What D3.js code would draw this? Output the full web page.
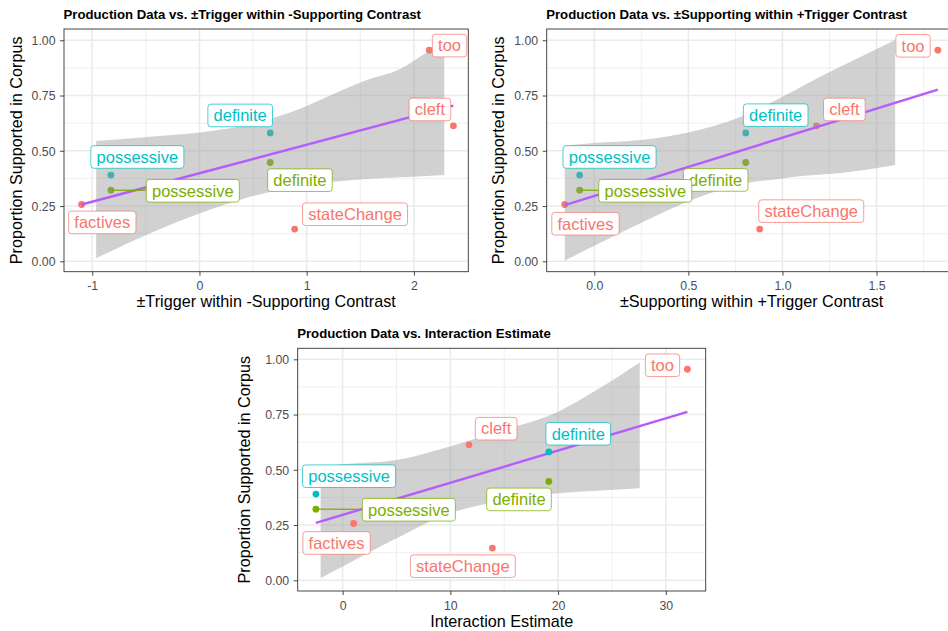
<!DOCTYPE html>
<html>
<head>
<meta charset="utf-8">
<script src="https://cdn.jsdelivr.net/npm/d3@7"></script>
<style>
  html, body { margin: 0; padding: 0; background: #fff; }
  svg { display: block; font-family: "Liberation Sans", Arial, Helvetica, sans-serif; }
</style>
</head>
<body>
<svg id="chart" width="948" height="631"></svg>
<script>
// ---------------- DATA ----------------
const triggers   = ["too", "cleft", "definite", "definite", "possessive", "possessive", "factives", "stateChange"];
const groups     = ["g1", "g1", "g3", "g2", "g3", "g2", "g1", "g1"];
const proportion = [0.955, 0.613, 0.581, 0.447, 0.390, 0.322, 0.257, 0.146];
const xTrigger     = [2.143, 2.368, 0.66, 0.66, -0.826, -0.826, -1.099, 0.888];
const xSupporting  = [1.826, 1.181, 0.805, 0.805, -0.078, -0.078, -0.157, 0.879];
const xInteraction = [32.0, 11.73, 19.14, 19.14, -2.48, -2.48, 1.02, 13.9];

// fitted line end points
const line1X = [-1.099, 2.368], line1Y = [0.257, 0.704];
const line2X = [-0.157, 1.826], line2Y = [0.254, 0.777];
const line3X = [-2.48, 32.0],   line3Y = [0.26, 0.762];

// confidence ribbons
const rib1X  = [-0.963, -0.459, 0.006, 0.472, 0.938, 1.25, 1.561, 1.872, 2.121, 2.283];
const rib1Hi = [0.544, 0.564, 0.583, 0.62, 0.69, 0.757, 0.82, 0.87, 0.945, 0.985];
const rib1Lo = [0.014, 0.127, 0.217, 0.292, 0.341, 0.36, 0.372, 0.38, 0.386, 0.39];
const rib2X  = [-0.157, 0.0, 0.247, 0.494, 0.778, 1.0, 1.132, 1.31, 1.599];
const rib2Hi = [0.523, 0.535, 0.549, 0.582, 0.654, 0.745, 0.805, 0.881, 1.001];
const rib2Lo = [0.003, 0.07, 0.173, 0.27, 0.348, 0.375, 0.388, 0.40, 0.436];
const rib3X  = [-2.04, 0, 5.01, 9.95, 14.29, 20.0, 23.56, 27.58];
const rib3Hi = [0.517, 0.525, 0.544, 0.605, 0.672, 0.763, 0.861, 0.986];
const rib3Lo = [0.009, 0.062, 0.19, 0.303, 0.356, 0.394, 0.405, 0.416];

// label anchor positions (data units, as placed by the repel layout)
const lab1X = [2.332, 2.149, 0.380, 0.937, -0.579, -0.062, -0.906, 1.451];
const lab1Y = [0.976, 0.687, 0.660, 0.367, 0.472, 0.319, 0.176, 0.213];
const lab2X = [1.694, 1.329, 0.964, 0.645, 0.081, 0.271, -0.047, 1.153];
const lab2Y = [0.975, 0.687, 0.661, 0.368, 0.472, 0.319, 0.170, 0.227];
const lab3X = [29.69, 14.25, 21.87, 16.37, 0.60, 6.15, -0.56, 11.16];
const lab3Y = [0.973, 0.686, 0.663, 0.366, 0.471, 0.319, 0.169, 0.064];

// ticks
const yTicks = [0, 0.25, 0.5, 0.75, 1.0];
const yTickLabels = ["0.00", "0.25", "0.50", "0.75", "1.00"];
const yMinor = [0.125, 0.375, 0.625, 0.875];
const x1Ticks = [-1, 0, 1, 2], x1TickLabels = ["-1", "0", "1", "2"], x1Minor = [-0.5, 0.5, 1.5];
const x2Ticks = [0, 0.5, 1.0, 1.5], x2TickLabels = ["0.0", "0.5", "1.0", "1.5"], x2Minor = [0.25, 0.75, 1.25, 1.75];
const x3Ticks = [0, 10, 20, 30], x3TickLabels = ["0", "10", "20", "30"], x3Minor = [5, 15, 25];

const titles  = ["Production Data vs. \u00B1Trigger within -Supporting Contrast",
                 "Production Data vs. \u00B1Supporting within +Trigger Contrast",
                 "Production Data vs. Interaction Estimate"];
const xTitles = ["\u00B1Trigger within -Supporting Contrast",
                 "\u00B1Supporting within +Trigger Contrast",
                 "Interaction Estimate"];
const yTitle  = "Proportion Supported in Corpus";

// ---------------- STYLE / LAYOUT ----------------
const color = d3.scaleOrdinal().domain(["g1", "g2", "g3"]).range(["#F8766D", "#7CAE00", "#00BFC4"]);
const lineColor = "#B45CFC";

const panels = [
  { xs: xTrigger, frame: {l: 64, r: 468.3, t: 29, b: 271.7}, xDomain: [-1.263, 2.507], yDomain: [-0.047, 1.051],
    xTicks: x1Ticks, xTickLabels: x1TickLabels, xMinor: x1Minor,
    rib: [rib1X, rib1Lo, rib1Hi], line: [line1X, line1Y], lab: [lab1X, lab1Y],
    pointsOnTop: false, title: titles[0], xTitle: xTitles[0], yTitleX: 22, titleY: 18.6 },
  { xs: xSupporting, frame: {l: 546.7, r: 956.5, t: 29, b: 271.7}, xDomain: [-0.253, 1.925], yDomain: [-0.047, 1.051],
    xTicks: x2Ticks, xTickLabels: x2TickLabels, xMinor: x2Minor,
    rib: [rib2X, rib2Lo, rib2Hi], line: [line2X, line2Y], lab: [lab2X, lab2Y],
    pointsOnTop: false, title: titles[1], xTitle: xTitles[1], yTitleX: 504, titleY: 18.6 },
  { xs: xInteraction, frame: {l: 297.7, r: 705.7, t: 348.3, b: 591}, xDomain: [-4.17, 33.7], yDomain: [-0.0484, 1.0498],
    xTicks: x3Ticks, xTickLabels: x3TickLabels, xMinor: x3Minor,
    rib: [rib3X, rib3Lo, rib3Hi], line: [line3X, line3Y], lab: [lab3X, lab3Y],
    pointsOnTop: true, title: titles[2], xTitle: xTitles[2], yTitleX: 250, titleY: 337.5 }
];

const svg = d3.select("#chart");
const labelFont = 16.5, pad = 5.7, boxH = 22.6;

panels.forEach(p => {
  const f = p.frame;
  const x = d3.scaleLinear().domain(p.xDomain).range([f.l, f.r]);
  const y = d3.scaleLinear().domain(p.yDomain).range([f.b, f.t]);
  const g = svg.append("g");

  // background grid
  const grid = g.append("g");
  p.xMinor.forEach(v => grid.append("line").attr("x1", x(v)).attr("x2", x(v)).attr("y1", f.t).attr("y2", f.b)
      .attr("stroke", "#EBEBEB").attr("stroke-width", 0.8));
  yMinor.forEach(v => grid.append("line").attr("x1", f.l).attr("x2", f.r).attr("y1", y(v)).attr("y2", y(v))
      .attr("stroke", "#EBEBEB").attr("stroke-width", 0.8));
  p.xTicks.forEach(v => grid.append("line").attr("x1", x(v)).attr("x2", x(v)).attr("y1", f.t).attr("y2", f.b)
      .attr("stroke", "#EBEBEB").attr("stroke-width", 1.6));
  yTicks.forEach(v => grid.append("line").attr("x1", f.l).attr("x2", f.r).attr("y1", y(v)).attr("y2", y(v))
      .attr("stroke", "#EBEBEB").attr("stroke-width", 1.6));

  const idx = d3.range(triggers.length);

  const drawPoints = () => {
    g.append("g").selectAll("circle").data(idx).join("circle")
      .attr("cx", i => x(p.xs[i])).attr("cy", i => y(proportion[i])).attr("r", 3.4)
      .attr("fill", i => color(groups[i]));
  };

  const ribData = d3.range(p.rib[0].length);
  const area = d3.area().curve(d3.curveMonotoneX)
    .x(i => x(p.rib[0][i])).y0(i => y(p.rib[1][i])).y1(i => y(p.rib[2][i]));
  const lineGen = d3.line().x(i => x(p.line[0][i])).y(i => y(p.line[1][i]));

  if (!p.pointsOnTop) drawPoints();
  g.append("path").datum(ribData).attr("d", area).attr("fill", "#999999").attr("fill-opacity", 0.45);
  g.append("path").datum(d3.range(p.line[0].length)).attr("d", lineGen)
    .attr("fill", "none").attr("stroke", lineColor).attr("stroke-width", 2.4);
  if (p.pointsOnTop) drawPoints();

  // labels (segments first)
  const segG = g.append("g");
  const labG = g.append("g");
  idx.forEach(i => {
    const cx = x(p.lab[0][i]), cy = y(p.lab[1][i]);
    const lg = labG.append("g");
    const rect = lg.append("rect");
    const t = lg.append("text").attr("x", cx).attr("y", cy + 5.8).attr("text-anchor", "middle")
      .attr("font-size", labelFont).attr("fill", color(groups[i])).text(triggers[i]);
    const w = t.node().getComputedTextLength() + 2 * pad;
    const bx = cx - w / 2, by = cy - boxH / 2;
    rect.attr("x", bx).attr("y", by).attr("width", w).attr("height", boxH).attr("rx", 3).attr("ry", 3)
      .attr("fill", "#fff").attr("stroke", color(groups[i])).attr("stroke-width", 0.9).attr("stroke-opacity", 0.8);
    // segment from point toward label centre, clipped at the box; only when the label sits far from its point
    const px = x(p.xs[i]), py = y(proportion[i]);
    const nx = Math.max(bx, Math.min(px, bx + w)), ny = Math.max(by, Math.min(py, by + boxH));
    const gap = Math.hypot(px - nx, py - ny);
    if (gap > 12) {
      const dx = cx - px, dy = cy - py;
      let tmin = 1;
      if (dx !== 0) {
        [bx, bx + w].forEach(ex => { const tt = (ex - px) / dx; const yy = py + tt * dy;
          if (tt > 0 && tt < tmin && yy >= by - 0.01 && yy <= by + boxH + 0.01) tmin = tt; });
      }
      if (dy !== 0) {
        [by, by + boxH].forEach(ey => { const tt = (ey - py) / dy; const xx = px + tt * dx;
          if (tt > 0 && tt < tmin && xx >= bx - 0.01 && xx <= bx + w + 0.01) tmin = tt; });
      }
      segG.append("line").attr("x1", px).attr("y1", py).attr("x2", px + tmin * dx).attr("y2", py + tmin * dy)
        .attr("stroke", color(groups[i])).attr("stroke-width", 1.2);
    }
  });

  // panel border
  g.append("rect").attr("x", f.l).attr("y", f.t).attr("width", f.r - f.l).attr("height", f.b - f.t)
    .attr("fill", "none").attr("stroke", "#333333").attr("stroke-width", 0.9);

  // axes
  const xAxis = d3.axisBottom(x).tickValues(p.xTicks).tickSize(4).tickPadding(3)
    .tickFormat((d, i) => p.xTickLabels[i]);
  const yAxis = d3.axisLeft(y).tickValues(yTicks).tickSize(4).tickPadding(4.5)
    .tickFormat((d, i) => yTickLabels[i]);
  const gx = g.append("g").attr("transform", `translate(0,${f.b})`).call(xAxis);
  const gy = g.append("g").attr("transform", `translate(${f.l},0)`).call(yAxis);
  [gx, gy].forEach(a => {
    a.select(".domain").remove();
    a.selectAll(".tick line").attr("stroke", "#333333").attr("stroke-width", 0.9);
    a.selectAll(".tick text").attr("fill", "#4D4D4D").attr("font-size", 12.3)
      .attr("font-family", "Liberation Sans, Arial, sans-serif");
  });
  gx.selectAll(".tick text").attr("dy", null).attr("y", 18.5);
  gy.selectAll(".tick text").attr("dy", null).attr("dominant-baseline", null).attr("y", 4.3);

  // titles
  g.append("text").attr("x", (f.l + f.r) / 2).attr("y", f.b + 35.5).attr("text-anchor", "middle")
    .attr("font-size", 16.2).attr("fill", "#000").text(p.xTitle);
  g.append("text").attr("transform", `translate(${p.yTitleX},${(f.t + f.b) / 2}) rotate(-90)`)
    .attr("text-anchor", "middle").attr("font-size", 16.2).attr("fill", "#000").text(yTitle);
  g.append("text").attr("x", f.l - 0.5).attr("y", p.titleY).attr("font-size", 13.2).attr("font-weight", "bold")
    .attr("fill", "#000").text(p.title);
});
</script>
</body>
</html>
